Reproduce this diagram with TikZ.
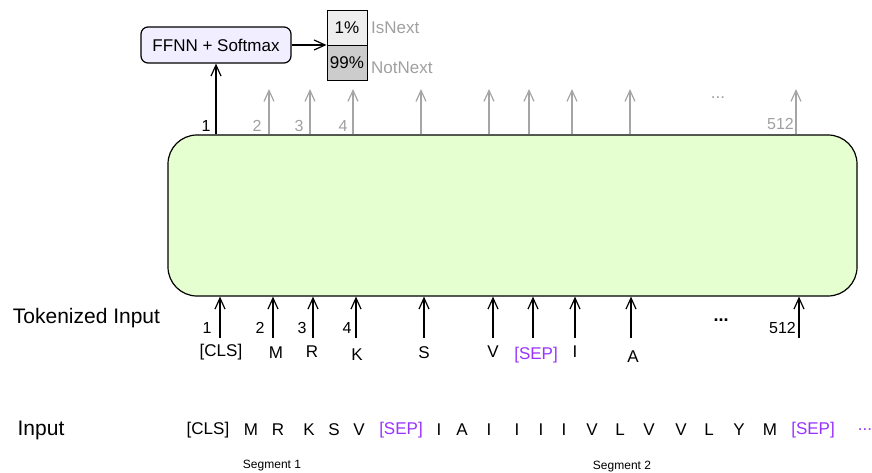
\documentclass[tikz,border=0pt]{standalone}
\usepackage{fontspec}
\setmainfont{Liberation Sans}
\usetikzlibrary{arrows.meta}

\definecolor{encfill}{RGB}{230,255,208}
\definecolor{headfill}{RGB}{241,238,255}
\definecolor{cellA}{RGB}{238,238,238}
\definecolor{cellB}{RGB}{204,204,204}
\definecolor{sepcol}{RGB}{153,51,255}
\definecolor{dimtext}{RGB}{160,160,160}
\definecolor{dimline}{RGB}{165,165,165}

\tikzset{
  txt/.style={inner sep=0pt, font=\fontsize{17}{20}\selectfont},
  big/.style={inner sep=0pt, font=\fontsize{21}{25}\selectfont},
  seg/.style={inner sep=0pt, font=\fontsize{12}{14}\selectfont},
  num/.style={inner sep=0pt, font=\fontsize{16}{19}\selectfont},
  dimnum/.style={num, text=dimtext},
  sep/.style={txt, text=sepcol},
  tip/.style={-{Straight Barb[length=11pt,width=10pt,line width=1.2pt]}},
  arr/.style={tip, line width=1.2pt, black},
  dimarr/.style={tip, line width=1.2pt, dimline},
  encbox/.style={draw, line width=1.2pt, fill=encfill, rounded corners=29pt,
    minimum width=689pt, minimum height=161pt, inner sep=0pt},
  headbox/.style={draw, line width=1.2pt, fill=headfill, rounded corners=7pt,
    minimum width=150pt, minimum height=36pt, inner sep=0pt,
    font=\fontsize{17}{20}\selectfont},
  cell/.style={draw, line width=1pt, minimum width=40pt, minimum height=35pt,
    inner sep=0pt, font=\fontsize{17}{20}\selectfont},
}

\begin{document}
\begin{tikzpicture}[x=1pt,y=-1pt]
\useasboundingbox (0,0) rectangle (872,473);

% encoder block
\node[encbox] (enc) at (512.5,215.5) {};

% classification head and output probabilities
\node[headbox] (ffnn) at (216,45) {FFNN + Softmax};
\node[cell, fill=cellA] (p1) at (347,28) {1\%};
\node[cell, fill=cellB] (p2) at (347,63) {99\%};
\node[txt, text=dimtext, anchor=west] (isnext) at (371,28) {IsNext};
\node[txt, text=dimtext, anchor=west] (notnext) at (371,68) {NotNext};

\draw[arr] (ffnn.south |- enc.north) -- (ffnn.south);
\draw[arr] (ffnn.east) -- (ffnn.east -| p1.west);

% encoder outputs
\node[num] (o1) at (206,126) {1};
\node[dimnum] (o2) at (257,126) {2};
\node[dimnum] (o3) at (299,126) {3};
\node[dimnum] (o4) at (343,126) {4};
\node[dimnum, anchor=east] (o512) at (794,124) {512};
\node[txt, text=dimtext] (odots) at (718,98) {...};

\foreach \i/\x in {2/269,3/310,4/353,5/421,6/489,7/529,8/572,9/630,10/796}{
  \coordinate (t\i) at (\x,89);
  \draw[dimarr] (t\i |- enc.north) -- (t\i);
}

% tokenized input
\node[big] (tokin) at (86.5,318) {Tokenized Input};

\foreach \i/\x in {1/220,2/273,3/313,4/356,5/424,6/493,7/533,8/575,9/631,10/799}{
  \coordinate (b\i) at (\x,338);
  \draw[arr] (b\i) -- (b\i |- enc.south);
}

\node[num] (n1) at (207,328) {1};
\node[num] (n2) at (260,328) {2};
\node[num] (n3) at (302,328) {3};
\node[num] (n4) at (347,328) {4};
\node[num, anchor=east] (n512) at (796,328) {512};
\node[txt, font=\fontsize{18}{20}\bfseries] (ndots) at (721,320) {...};

\node[txt] (k1) at (221,352) {[CLS]};
\node[txt] (k2) at (276,353) {M};
\node[txt] (k3) at (312,352) {R};
\node[txt] (k4) at (357,355) {K};
\node[txt] (k5) at (424,353) {S};
\node[txt] (k6) at (493,352) {V};
\node[sep]  (k7) at (536,355) {[SEP]};
\node[txt] (k8) at (575,352) {I};
\node[txt] (k9) at (633,357) {A};

% raw input sequence
\node[big] (inp) at (41,430) {Input};
\foreach \i/\x/\t in {1/208/[CLS],2/251/M,3/278/R,4/309/K,5/334/S,6/359/V,
  8/439/I,9/462/A,10/489/I,11/517/I,12/541/I,13/564/I,14/592/V,15/620/L,
  16/649/V,17/681/V,18/709/L,19/739/Y,20/770/M}{
  \node[txt] (s\i) at (\x,430) {\t};
}
\node[sep] (s7) at (401,430) {[SEP]};
\node[sep] (s21) at (813,430) {[SEP]};
\node[sep] (s22) at (865,430) {...};

\node[seg] (seg1) at (272,466) {Segment 1};
\node[seg] (seg2) at (622,467) {Segment 2};
\end{tikzpicture}
\end{document}
